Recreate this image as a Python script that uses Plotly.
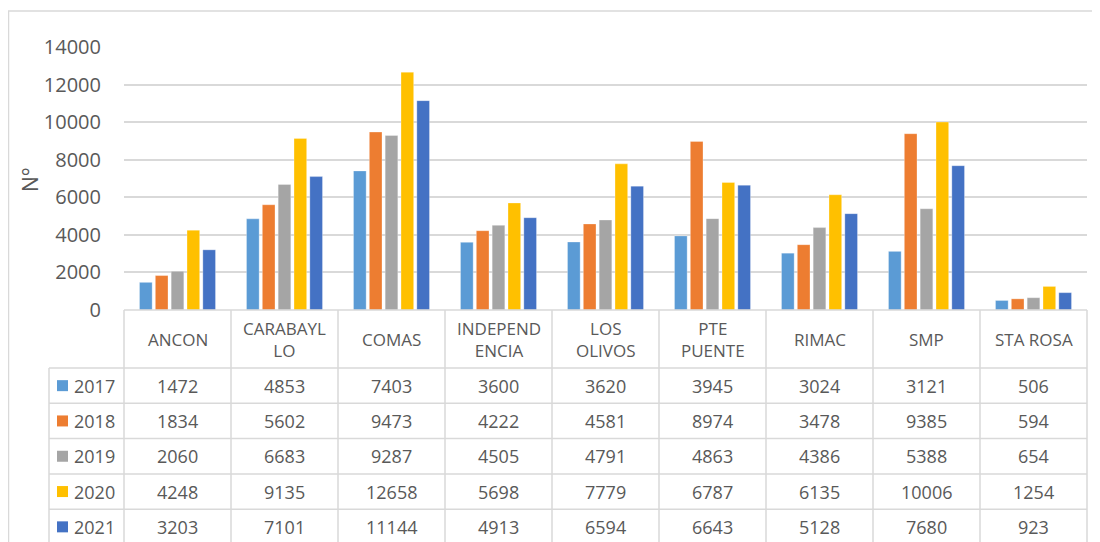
import plotly.graph_objects as go

# --- data ---
districts = ["ANCON", "CARABAYLLO", "COMAS", "INDEPENDENCIA", "LOS OLIVOS",
             "PTE PUENTE", "RIMAC", "SMP", "STA ROSA"]
header_labels = ["ANCON", "CARABAYL<br>LO", "COMAS", "INDEPEND<br>ENCIA", "LOS<br>OLIVOS",
                 "PTE<br>PUENTE", "RIMAC", "SMP", "STA ROSA"]
years = ["2017", "2018", "2019", "2020", "2021"]
v2017 = [1472, 4853, 7403, 3600, 3620, 3945, 3024, 3121, 506]
v2018 = [1834, 5602, 9473, 4222, 4581, 8974, 3478, 9385, 594]
v2019 = [2060, 6683, 9287, 4505, 4791, 4863, 4386, 5388, 654]
v2020 = [4248, 9135, 12658, 5698, 7779, 6787, 6135, 10006, 1254]
v2021 = [3203, 7101, 11144, 4913, 6594, 6643, 5128, 7680, 923]
series = [v2017, v2018, v2019, v2020, v2021]
colors = ["#5B9BD5", "#ED7D31", "#A5A5A5", "#FFC000", "#4472C4"]

# the page body has an 8px margin, so the figure is offset by 8px
OFF = 8
W, H = 1100 - OFF, 542 - OFF
TXT = "#595959"
LINE = "#D9D9D9"
FONT = "Open Sans"


def X(px):
    return (px - OFF) / W


def Y(py):
    return 1 - (py - OFF) / H


plot_left, plot_right = 124, 1087
plot_top, plot_bottom = 47, 310
col_w = (plot_right - plot_left) / len(districts)
leg_left = 49
header_bottom = 368
row_h = 35.3

fig = go.Figure()
for yr, vals, c in zip(years, series, colors):
    fig.add_trace(go.Bar(x=districts, y=vals, name=yr, marker_color=c,
                         marker_line=dict(color="rgba(255,255,255,0.6)", width=0.5)))

shapes = []
# outer chart border
shapes.append(dict(type="rect", xref="paper", yref="paper", x0=X(8.5), x1=X(1110),
                   y0=Y(560), y1=Y(11), line=dict(color=LINE, width=1.5)))
# table horizontal lines
shapes.append(dict(type="line", xref="paper", yref="paper", x0=X(plot_left), x1=X(plot_right),
                   y0=Y(plot_bottom), y1=Y(plot_bottom), line=dict(color=LINE, width=1.5)))
for r in range(len(years) + 1):
    yy = header_bottom + r * row_h
    shapes.append(dict(type="line", xref="paper", yref="paper", x0=X(leg_left), x1=X(plot_right),
                       y0=Y(yy), y1=Y(yy), line=dict(color=LINE, width=1.5)))
# table vertical lines
for k in range(len(districts) + 1):
    xx = plot_left + k * col_w
    shapes.append(dict(type="line", xref="paper", yref="paper", x0=X(xx), x1=X(xx),
                       y0=Y(plot_bottom), y1=Y(600), line=dict(color=LINE, width=1.5)))
shapes.append(dict(type="line", xref="paper", yref="paper", x0=X(leg_left), x1=X(leg_left),
                   y0=Y(header_bottom), y1=Y(600), line=dict(color=LINE, width=1.5)))


def label(x, y, text, size=18, xanchor="center", angle=0):
    return dict(x=x, y=y, xref="paper", yref="paper", text=text, showarrow=False,
                xanchor=xanchor, yanchor="middle", textangle=angle,
                font=dict(size=size, color=TXT, family=FONT))


annotations = []
# header row
for i, lab in enumerate(header_labels):
    annotations.append(label(X(plot_left + (i + 0.5) * col_w),
                             Y((plot_bottom + header_bottom) / 2), lab, size=17))
# data rows + legend keys
for r, (yr, vals, c) in enumerate(zip(years, series, colors)):
    cy = header_bottom + (r + 0.5) * row_h
    shapes.append(dict(type="rect", xref="paper", yref="paper", x0=X(57), x1=X(68),
                       y0=Y(cy + 5.5), y1=Y(cy - 5.5), fillcolor=c, line=dict(width=0)))
    annotations.append(label(X(72), Y(cy), yr, xanchor="left"))
    for i, v in enumerate(vals):
        annotations.append(label(X(plot_left + (i + 0.5) * col_w), Y(cy), str(v)))
# y-axis title
annotations.append(label(X(30), Y(180), "N°", size=21, angle=-90))

fig.update_layout(
    width=W, height=H,
    margin=dict(l=0, r=0, t=0, b=0, autoexpand=False),
    paper_bgcolor="white", plot_bgcolor="white",
    barmode="group", bargap=0.26, bargroupgap=0.2,
    showlegend=False,
    font=dict(family=FONT, color=TXT),
    xaxis=dict(domain=[X(plot_left), X(plot_right)], showticklabels=False,
               showline=False, showgrid=False, zeroline=False),
    yaxis=dict(domain=[Y(plot_bottom), Y(plot_top)], range=[0, 14000], dtick=2000,
               tickformat="d", automargin=False,
               showgrid=True, gridcolor=LINE, gridwidth=1.5, zeroline=False, showline=False,
               tickfont=dict(size=20, color=TXT, family=FONT), ticklabelstandoff=22),
    shapes=shapes,
    annotations=annotations,
)

fig.write_html("out.html")
